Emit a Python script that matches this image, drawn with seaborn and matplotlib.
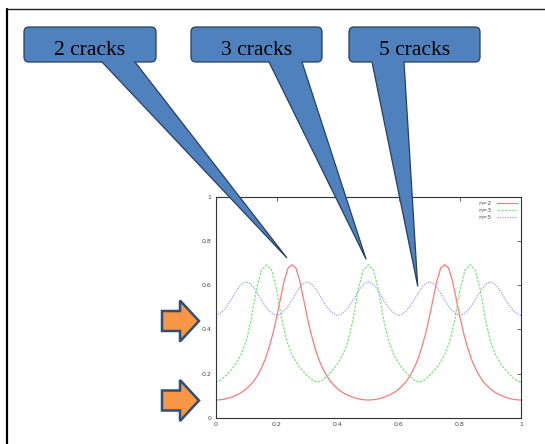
import numpy as np
import matplotlib
matplotlib.use("Agg")
import matplotlib.pyplot as plt
import matplotlib.transforms as mtransforms
from matplotlib.patches import FancyBboxPatch, Polygon
from matplotlib.lines import Line2D
import seaborn as sns

# ---- data ----
x_n2 = np.linspace(0, 1, 81)
n2 = [0.080, 0.081, 0.083, 0.087, 0.092, 0.099, 0.107, 0.117, 0.130, 0.146, 0.166,
      0.192, 0.225, 0.265, 0.318, 0.380, 0.455, 0.540, 0.622, 0.678, 0.692,
      0.678, 0.622, 0.540, 0.455, 0.380, 0.318, 0.265, 0.225, 0.192, 0.166,
      0.146, 0.130, 0.117, 0.107, 0.099, 0.092, 0.087, 0.083, 0.081, 0.080,
      0.081, 0.083, 0.087, 0.092, 0.099, 0.107, 0.117, 0.130, 0.146, 0.166,
      0.192, 0.225, 0.265, 0.318, 0.380, 0.455, 0.540, 0.622, 0.678, 0.692,
      0.678, 0.622, 0.540, 0.455, 0.380, 0.318, 0.265, 0.225, 0.192, 0.166,
      0.146, 0.130, 0.117, 0.107, 0.099, 0.092, 0.087, 0.083, 0.081, 0.080]

x_n3 = np.linspace(0, 1, 61)
n3 = [0.160, 0.170, 0.190, 0.215, 0.245, 0.285, 0.345, 0.445, 0.578, 0.668, 0.692,
      0.668, 0.578, 0.445, 0.345, 0.285, 0.245, 0.215, 0.190, 0.170, 0.160,
      0.170, 0.190, 0.215, 0.245, 0.285, 0.345, 0.445, 0.578, 0.668, 0.692,
      0.668, 0.578, 0.445, 0.345, 0.285, 0.245, 0.215, 0.190, 0.170, 0.160,
      0.170, 0.190, 0.215, 0.245, 0.285, 0.345, 0.445, 0.578, 0.668, 0.692,
      0.668, 0.578, 0.445, 0.345, 0.285, 0.245, 0.215, 0.190, 0.170, 0.160]

x_n5 = np.linspace(0, 1, 81)
n5 = [0.462, 0.470, 0.484, 0.505, 0.532, 0.562, 0.588, 0.607, 0.615, 0.607, 0.588, 0.562, 0.532, 0.505, 0.484, 0.470,
      0.462, 0.470, 0.484, 0.505, 0.532, 0.562, 0.588, 0.607, 0.615, 0.607, 0.588, 0.562, 0.532, 0.505, 0.484, 0.470,
      0.462, 0.470, 0.484, 0.505, 0.532, 0.562, 0.588, 0.607, 0.615, 0.607, 0.588, 0.562, 0.532, 0.505, 0.484, 0.470,
      0.462, 0.470, 0.484, 0.505, 0.532, 0.562, 0.588, 0.607, 0.615, 0.607, 0.588, 0.562, 0.532, 0.505, 0.484, 0.470,
      0.462, 0.470, 0.484, 0.505, 0.532, 0.562, 0.588, 0.607, 0.615, 0.607, 0.588, 0.562, 0.532, 0.505, 0.484, 0.470,
      0.462]

tick_vals = [0, 0.2, 0.4, 0.6, 0.8, 1]
tick_labels = ["0", "0.2", "0.4", "0.6", "0.8", "1"]
callout_labels = ["2 cracks", "3 cracks", "5 cracks"]

# ---- figure ----
sns.set_style("white")
W, H = 545, 444
fig = plt.figure(figsize=(W / 100, H / 100), dpi=100)
ax = fig.add_axes([215.6 / W, 1 - 417.7 / H, 305.4 / W, 221.0 / H])

sns.lineplot(x=x_n2, y=n2, ax=ax, color="#ff7a7a", linewidth=0.9, label="n=2")
sns.lineplot(x=x_n3, y=n3, ax=ax, color="#80e680", linewidth=0.9,
             linestyle=(0, (2, 1)), label="n=3")
sns.lineplot(x=x_n5, y=n5, ax=ax, color="#9c9cff", linewidth=0.9,
             linestyle=(0, (1, 1)), label="n=5")

ax.set_xlim(0, 1)
ax.set_ylim(0, 1)
ax.set_xticks(tick_vals)
ax.set_xticklabels(tick_labels)
ax.set_yticks(tick_vals)
ax.set_yticklabels(tick_labels)
ax.tick_params(direction="in", top=True, right=True, length=3, width=0.5,
               color="#333333", labelsize=4.5, labelcolor="#444444", pad=3)
for sp in ax.spines.values():
    sp.set_linewidth(0.8)
    sp.set_color("#333333")

leg = ax.legend(loc="upper right", frameon=False, fontsize=4.5, markerfirst=False,
                handlelength=3.2, labelspacing=0.25, handletextpad=0.8,
                borderaxespad=0.3)
for t in leg.get_texts():
    t.set_color("#555555")

# pixel coordinates from the top-left corner
px = mtransforms.Affine2D().scale(1 / 100, -1 / 100).translate(0, H / 100) + fig.dpi_scale_trans

# slide frame
fig.add_artist(Line2D([6.5, 6.5], [9, H + 5], transform=px, color="black", lw=1.6, zorder=5))
fig.add_artist(Line2D([6.5, W + 5], [9, 9], transform=px, color="#222222", lw=1.0, zorder=5))

# callouts
box_fill = "#4f81bd"
box_edge = "#263f63"
boxes = [(24, 156), (191, 322), (349, 480)]
tails = [((102, 135), (286.7, 257.7)),
         ((269, 302), (366, 259)),
         ((372, 404), (417.7, 286))]
for (bx0, bx1), ((tx0, tx1), tip), lab in zip(boxes, tails, callout_labels):
    rect = FancyBboxPatch((bx0, 27), bx1 - bx0, 35,
                          boxstyle="round,pad=0,rounding_size=5",
                          transform=px, facecolor=box_fill, edgecolor=box_edge,
                          lw=0.9, zorder=10)
    fig.add_artist(rect)
    tail = Polygon([(tx0, 58), (tx0, 62), tip, (tx1, 62), (tx1, 58)], closed=True,
                   transform=px, facecolor=box_fill, edgecolor="none", zorder=11)
    fig.add_artist(tail)
    fig.add_artist(Line2D([tx0, tip[0], tx1], [62, tip[1], 62], transform=px,
                          color=box_edge, lw=0.9, zorder=12))
    fig.text((bx0 + bx1) / 2, 55, lab, transform=px, ha="center", va="baseline",
             fontsize=15.5, family=["Liberation Serif", "DejaVu Serif"],
             color="black", zorder=13)

# orange block arrows
for yc in [321, 400.5]:
    pts = [(162, yc - 10), (180, yc - 10), (180, yc - 20.5), (199, yc),
           (180, yc + 20.5), (180, yc + 10), (162, yc + 10)]
    fig.add_artist(Polygon(pts, closed=True, transform=px, facecolor="#f79646",
                           edgecolor="#2f4f78", lw=1.8, joinstyle="miter", zorder=10))

fig.savefig("out.png", dpi=100)
